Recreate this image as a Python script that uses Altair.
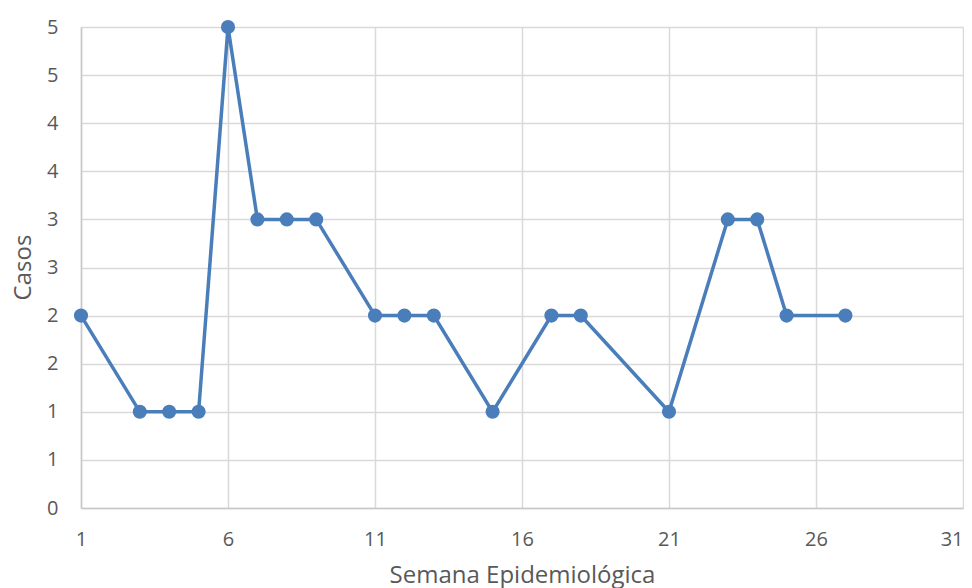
import altair as alt
import pandas as pd

semana = [1, 3, 4, 5, 6, 7, 8, 9, 11, 12, 13, 15, 17, 18, 21, 23, 24, 25, 27]
casos = [2, 1, 1, 1, 5, 3, 3, 3, 2, 2, 2, 1, 2, 2, 1, 3, 3, 2, 2]
x_ticks = [1, 6, 11, 16, 21, 26, 31]
y_ticks = [0, 0.5, 1, 1.5, 2, 2.5, 3, 3.5, 4, 4.5, 5]

df = pd.DataFrame({"Semana": semana, "Casos": casos})

FONT = "Open Sans"
LABEL_COLOR = "#595959"
GRID = "#d9d9d9"
BLUE = "#4a7ebb"

x = alt.X(
    "Semana:Q",
    scale=alt.Scale(domain=[1, 31], nice=False, zero=False),
    axis=alt.Axis(
        title="Semana Epidemiológica",
        values=x_ticks,
        ticks=False,
        labelFlush=False,
        labelAlign=alt.ExprRef(expr="datum.value == 31 ? 'right' : 'center'"),
        labelPadding=21,
        labelFontSize=20,
        labelColor=LABEL_COLOR,
        labelFont=FONT,
        titleFont=FONT,
        titleFontSize=24,
        titleFontWeight="normal",
        titleColor=LABEL_COLOR,
        titleBaseline="top",
        titleY=55,
        grid=True,
        gridColor=GRID,
        gridWidth=1.5,
        domainColor="#c8c8c8",
        domainWidth=1.5,
    ),
)
y = alt.Y(
    "Casos:Q",
    scale=alt.Scale(domain=[0, 5], nice=False),
    axis=alt.Axis(
        title="Casos",
        values=y_ticks,
        labelExpr="round(datum.value)",
        ticks=False,
        labelPadding=23,
        labelFontSize=20,
        labelColor=LABEL_COLOR,
        labelFont=FONT,
        titleFont=FONT,
        titleFontSize=24,
        titleFontWeight="normal",
        titleColor=LABEL_COLOR,
        titleAngle=-90,
        titleBaseline="middle",
        titleAlign="center",
        titleX=-58,
        titleY=240,
        grid=True,
        gridColor=GRID,
        gridWidth=1.5,
        domainColor="#c8c8c8",
        domainWidth=1.5,
    ),
)

line = alt.Chart(df).mark_line(color=BLUE, strokeWidth=3.5).encode(x=x, y=y)
pts = alt.Chart(df).mark_circle(color=BLUE, size=200, opacity=1).encode(x=x, y=y)

chart = (
    (line + pts)
    .properties(
        width=882,
        height=481,
        autosize=alt.AutoSizeParams(type="none"),
        padding={"left": 73, "top": 19, "right": 1, "bottom": 80},
        background="white",
    )
    .configure_view(stroke=None)
)

chart.save("out.html", embed_options={"renderer": "svg", "actions": False})
